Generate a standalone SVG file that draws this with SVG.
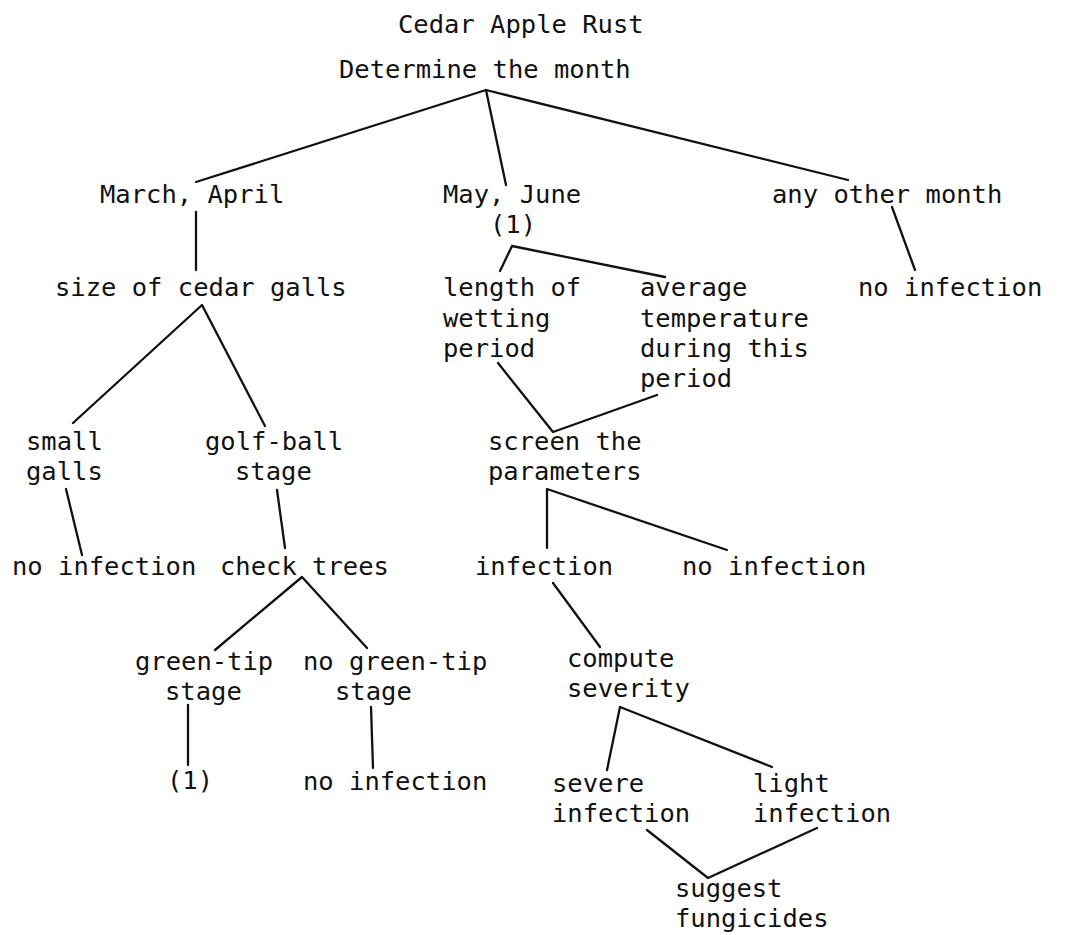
<svg xmlns="http://www.w3.org/2000/svg" width="1067" height="935" viewBox="0 0 1067 935">
<style>
text{font-family:"DejaVu Sans Mono","Liberation Mono",monospace;font-size:25.5px;fill:#111}
.c line,.c polyline{stroke:#111;stroke-width:2.3;fill:none;stroke-linecap:round;stroke-linejoin:round}
</style>
<rect width="1067" height="935" fill="#fff"/>
<g class="c" id="connectors">
<polyline points="196,182 486,90 848,180"/>
<line x1="486" y1="90" x2="506" y2="185"/>
<line x1="196" y1="212" x2="196" y2="270"/>
<line x1="892" y1="207" x2="915" y2="270"/>
<polyline points="73,423 202,305 265,426"/>
<polyline points="500,271 512,246 665,277"/>
<polyline points="498,363 553,432 657,395"/>
<polyline points="547,548 547,489 727,550"/>
<line x1="66" y1="489" x2="82" y2="555"/>
<line x1="277" y1="490" x2="285" y2="548"/>
<polyline points="215,650 302,577 367,648"/>
<line x1="553" y1="583" x2="600" y2="647"/>
<polyline points="607,770 620,707 772,767"/>
<line x1="188" y1="705" x2="188" y2="765"/>
<line x1="371" y1="707" x2="373" y2="768"/>
<polyline points="647,830 708,878 817,828"/>
</g>
<g id="title"><text x="398" y="33">Cedar Apple Rust</text></g>
<g id="root"><text x="339" y="78">Determine the month</text></g>
<g id="march"><text x="100" y="203">March, April</text></g>
<g id="may"><text x="443" y="203">May, June</text><text x="490" y="233">(1)</text></g>
<g id="other"><text x="772" y="203">any other month</text></g>
<g id="noinf-other"><text x="858" y="296">no infection</text></g>
<g id="size"><text x="55" y="296">size of cedar galls</text></g>
<g id="length"><text x="443" y="296">length of</text><text x="443" y="327">wetting</text><text x="443" y="357">period</text></g>
<g id="average"><text x="640" y="296">average</text><text x="640" y="327">temperature</text><text x="640" y="357">during this</text><text x="640" y="387">period</text></g>
<g id="small"><text x="26" y="450">small</text><text x="26" y="480">galls</text></g>
<g id="golf"><text x="205" y="450">golf-ball</text><text x="235" y="480">stage</text></g>
<g id="screen"><text x="488" y="450">screen the</text><text x="488" y="480">parameters</text></g>
<g id="noinf-small"><text x="12" y="575">no infection</text></g>
<g id="check"><text x="220" y="575">check trees</text></g>
<g id="infection"><text x="475" y="575">infection</text></g>
<g id="noinf-screen"><text x="682" y="575">no infection</text></g>
<g id="greentip"><text x="135" y="670">green-tip</text><text x="165" y="700">stage</text></g>
<g id="nogreentip"><text x="303" y="670">no green-tip</text><text x="335" y="700">stage</text></g>
<g id="compute"><text x="567" y="667">compute</text><text x="567" y="697">severity</text></g>
<g id="ref1"><text x="167" y="789">(1)</text></g>
<g id="noinf-green"><text x="303" y="790">no infection</text></g>
<g id="severe"><text x="552" y="792">severe</text><text x="552" y="822">infection</text></g>
<g id="light"><text x="753" y="792">light</text><text x="753" y="822">infection</text></g>
<g id="suggest"><text x="675" y="897">suggest</text><text x="675" y="927">fungicides</text></g>
</svg>
